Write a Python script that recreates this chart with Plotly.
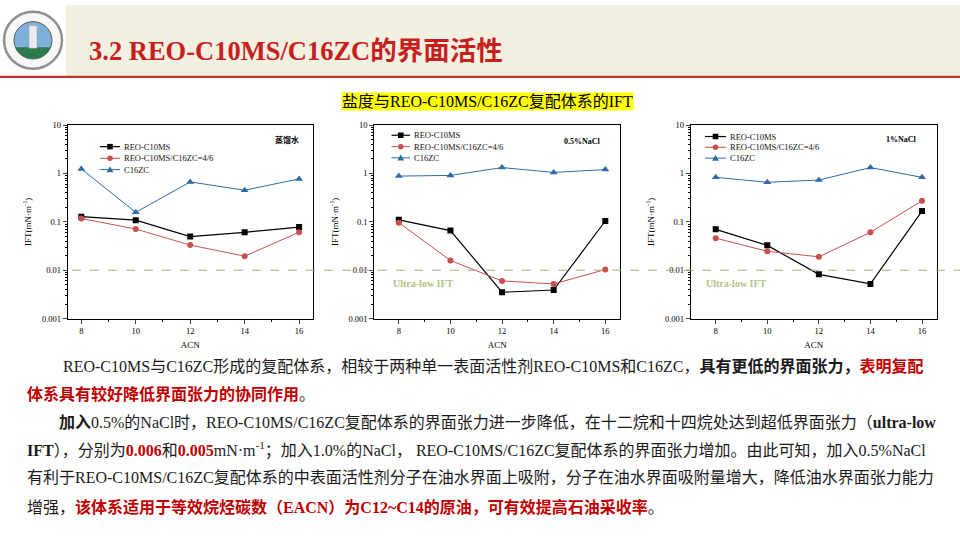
import math
import plotly.graph_objects as go

W, H = 960, 540

# ---- data ----
acn = [8, 10, 12, 14, 16]
series_names = ["REO-C10MS", "REO-C10MS/C16ZC=4/6", "C16ZC"]
panel_labels = ["蒸馏水", "0.5%NaCl", "1%NaCl"]

# distilled water
water_c10ms = [0.128, 0.108, 0.0496, 0.0607, 0.078]
water_mix = [0.117, 0.071, 0.033, 0.0195, 0.061]
water_c16zc = [1.24, 0.157, 0.667, 0.45, 0.77]

# 0.5% NaCl
nacl05_c10ms = [0.11, 0.066, 0.0035, 0.0039, 0.104]
nacl05_mix = [0.096, 0.0159, 0.006, 0.0052, 0.0103]
nacl05_c16zc = [0.88, 0.91, 1.32, 1.05, 1.2]

# 1% NaCl
nacl1_c10ms = [0.07, 0.0326, 0.0082, 0.0052, 0.167]
nacl1_mix = [0.0459, 0.0246, 0.0189, 0.0607, 0.271]
nacl1_c16zc = [0.83, 0.657, 0.73, 1.32, 0.83]

ultra_low = 0.01
ytick_vals = [0.001, 0.01, 0.1, 1, 10]
ytick_text = ["0.001", "0.01", "0.1", "1", "10"]

title_text = "3.2 REO-C10MS/C16ZC的界面活性"
subtitle_text = "盐度与REO-C10MS/C16ZC复配体系的IFT"

RED = "#C00000"
def red(s):
    return f"<b><span style='color:{RED}'>{s}</span></b>"

body_lines = [
    "REO-C10MS与C16ZC形成的复配体系，相较于两种单一表面活性剂REO-C10MS和C16ZC，<b>具有更低的界面张力，</b>" + red("表明复配"),
    red("体系具有较好降低界面张力的协同作用") + "。",
    "<b>加入</b>0.5%的NaCl时，REO-C10MS/C16ZC复配体系的界面张力进一步降低，在十二烷和十四烷处达到超低界面张力（<b>ultra-low</b>",
    "<b>IFT</b>），分别为" + red("0.006") + "和" + red("0.005") + "mN·m<sup>-1</sup>；加入1.0%的NaCl， REO-C10MS/C16ZC复配体系的界面张力增加。由此可知，加入0.5%NaCl",
    "有利于REO-C10MS/C16ZC复配体系的中表面活性剂分子在油水界面上吸附，分子在油水界面吸附量增大，降低油水界面张力能力",
    "增强，" + red("该体系适用于等效烷烃碳数（EACN）为C12~C14的原油，可有效提高石油采收率") + "。",
]

# ---- styling ----
colors = ["#000000", "#C9504F", "#2E6AA6"]
symbols = ["square", "circle", "triangle-up"]
msizes = [6, 6, 7]
lwidths = [1.2, 1, 1]
SERIF = "Liberation Serif, Noto Sans CJK SC, serif"


def px(x):
    return x / W


def py(y):
    return 1 - y / H


panels = [
    dict(data=[water_c10ms, water_mix, water_c16zc], xd=(67.7, 312.7), xr=[7.5, 16.5]),
    dict(data=[nacl05_c10ms, nacl05_mix, nacl05_c16zc], xd=(374.3, 620), xr=[7.05, 16.57]),
    dict(data=[nacl1_c10ms, nacl1_mix, nacl1_c16zc], xd=(690.7, 936.7), xr=[7.03, 16.57]),
]
y_dom = [py(319.5), py(122.3)]

fig = go.Figure()

minor_log = [k * 10 ** e for e in range(-3, 1) for k in range(2, 10)]

for i, p in enumerate(panels):
    sfx = "" if i == 0 else str(i + 1)
    for j, vals in enumerate(p["data"]):
        fig.add_trace(go.Scatter(
            x=acn, y=vals, mode="lines+markers", name=series_names[j],
            line=dict(color=colors[j], width=lwidths[j]),
            marker=dict(symbol=symbols[j], size=msizes[j], color=colors[j]),
            xaxis="x" + sfx, yaxis="y" + sfx, showlegend=False,
        ))
    fig.update_layout(**{
        "xaxis" + sfx: dict(
            domain=[px(p["xd"][0]), px(p["xd"][1])], range=p["xr"],
            anchor="y" + sfx, tickvals=acn, ticks="outside", ticklen=4,
            showline=True, linecolor="black", linewidth=1, mirror=True,
            showgrid=False, zeroline=False,
            tickfont=dict(family=SERIF, size=8.5, color="black"),
            title=dict(text="ACN", font=dict(family=SERIF, size=9, color="black"), standoff=6),
            minor=dict(tickvals=[9, 11, 13, 15], ticks="outside", ticklen=2, tickcolor="black"),
        ),
        "yaxis" + sfx: dict(
            domain=y_dom, type="log", range=[-3, 1], anchor="x" + sfx,
            tickvals=ytick_vals, ticktext=ytick_text, ticks="outside", ticklen=4,
            showline=True, linecolor="black", linewidth=1, mirror=True,
            showgrid=False, zeroline=False,
            tickfont=dict(family=SERIF, size=8.5, color="black"),
            title=dict(text="IFT(mN·m<sup>-1</sup>)", font=dict(family=SERIF, size=9, color="black"), standoff=8),
            minor=dict(tickvals=minor_log, ticks="outside", ticklen=2, tickcolor="black"),
        ),
    })

shapes = []
annotations = []

# header band, red rule, logo
shapes.append(dict(type="rect", xref="paper", yref="paper", x0=px(66), x1=1, y0=py(72), y1=1,
                   fillcolor="#F2F0E1", line=dict(width=0), layer="below"))
shapes.append(dict(type="rect", xref="paper", yref="paper", x0=0, x1=1, y0=py(74.5), y1=py(72),
                   fillcolor="#C8302C", line=dict(width=0)))
cx, cy, r = 33, 36, 29
shapes.append(dict(type="circle", xref="paper", yref="paper", x0=px(cx - r), x1=px(cx + r),
                   y0=py(cy + r), y1=py(cy - r), fillcolor="#F7F7F7", line=dict(color="#8F8F8F", width=2.5)))
ri = 19
shapes.append(dict(type="circle", xref="paper", yref="paper", x0=px(cx - ri), x1=px(cx + ri),
                   y0=py(cy + ri), y1=py(cy - ri), fillcolor="#7EB0DC", line=dict(color="#5A5A5A", width=1)))
seg = []
cut = 7
a0 = math.asin(cut / ri)
n = 16
for k in range(n + 1):
    a = a0 + (math.pi - 2 * a0) * k / n
    seg.append((cx + ri * math.cos(a), cy + ri * math.sin(a)))
path = "M " + " L ".join(f"{px(x):.5f},{py(y):.5f}" for x, y in seg) + " Z"
shapes.append(dict(type="path", xref="paper", yref="paper", path=path, fillcolor="#2F7A4C", line=dict(width=0)))
shapes.append(dict(type="rect", xref="paper", yref="paper", x0=px(29), x1=px(37), y0=py(44), y1=py(21),
                   fillcolor="#E8ECEF", line=dict(color="#9AA3AA", width=0.5)))

# ultra-low IFT reference line, runs across the panels
shapes.append(dict(type="line", xref="paper", yref="y", x0=px(72), x1=1, y0=ultra_low, y1=ultra_low,
                   line=dict(color="#ADA981", width=1, dash="dash")))

# per-panel legends
legend_pos = [
    dict(rows=[144.3, 156.2, 167.7], kx=(100, 120), tx=122),
    dict(rows=[132.7, 144.3, 155.7], kx=(391.5, 410), tx=411.5),
    dict(rows=[134, 145, 156], kx=(705, 726), tx=727.5),
]
for lp in legend_pos:
    for j, yrow in enumerate(lp["rows"]):
        x0, x1 = lp["kx"]
        shapes.append(dict(type="line", xref="paper", yref="paper", x0=px(x0), x1=px(x1),
                           y0=py(yrow), y1=py(yrow), line=dict(color=colors[j], width=lwidths[j])))
        mx = (x0 + x1) / 2
        s = 2.8
        if symbols[j] == "square":
            shapes.append(dict(type="rect", xref="paper", yref="paper", x0=px(mx - s), x1=px(mx + s),
                               y0=py(yrow + s), y1=py(yrow - s), fillcolor=colors[j], line=dict(width=0)))
        elif symbols[j] == "circle":
            shapes.append(dict(type="circle", xref="paper", yref="paper", x0=px(mx - s), x1=px(mx + s),
                               y0=py(yrow + s), y1=py(yrow - s), fillcolor=colors[j], line=dict(width=0)))
        else:
            tri = f"M {px(mx - 3.4):.5f},{py(yrow + 2.8):.5f} L {px(mx + 3.4):.5f},{py(yrow + 2.8):.5f} L {px(mx):.5f},{py(yrow - 3.4):.5f} Z"
            shapes.append(dict(type="path", xref="paper", yref="paper", path=tri,
                               fillcolor=colors[j], line=dict(width=0)))
        annotations.append(dict(xref="paper", yref="paper", x=px(lp["tx"]), y=py(yrow), xanchor="left",
                                yanchor="middle", showarrow=False, text=series_names[j],
                                font=dict(family=SERIF, size=8.5, color="#111111")))

# panel condition labels
label_xy = [(287, 137.5), (582, 139), (901, 137.5)]
for (lx, ly), lab in zip(label_xy, panel_labels):
    annotations.append(dict(xref="paper", yref="paper", x=px(lx), y=py(ly), xanchor="center",
                            yanchor="middle", showarrow=False,
                            text=f"<b>{lab}</b>", font=dict(family=SERIF, size=8, color="black")))
for lx in (391, 703.5):
    annotations.append(dict(xref="paper", yref="paper", x=px(lx), y=py(284), xanchor="left",
                            yanchor="middle", showarrow=False,
                            text="<b>Ultra-low IFT</b>", font=dict(family=SERIF, size=10, color="#B3C283")))

# title and subtitle
annotations.append(dict(xref="paper", yref="paper", x=px(87), y=py(47), xanchor="left", yanchor="middle",
                        showarrow=False, text=f"<b>{title_text}</b>",
                        font=dict(family=SERIF, size=26.5, color="#C81E1E")))
annotations.append(dict(xref="paper", yref="paper", x=px(487.5), y=py(98), xanchor="center", yanchor="middle",
                        showarrow=False, text=subtitle_text, bgcolor="#FFFF00", borderpad=0,
                        font=dict(family=SERIF, size=16, color="black")))

# body paragraph
line_y = [368, 396.7, 425, 453, 481.7, 511.7]
line_x = [61, 25, 57, 25, 25, 25]
for t, lx, ly in zip(body_lines, line_x, line_y):
    annotations.append(dict(xref="paper", yref="paper", x=px(lx), y=py(ly), xanchor="left", yanchor="middle",
                            showarrow=False, text=t, font=dict(family=SERIF, size=16, color="#1A1A1A")))

fig.update_layout(
    width=W, height=H,
    margin=dict(l=0, r=0, t=0, b=0),
    paper_bgcolor="white", plot_bgcolor="white",
    showlegend=False,
    shapes=shapes, annotations=annotations,
)

# drop the default page margin so the 960x540 figure fills the window
fig.write_html("out.html", config={"displayModeBar": False},
               post_script="document.body.style.margin='0';")
